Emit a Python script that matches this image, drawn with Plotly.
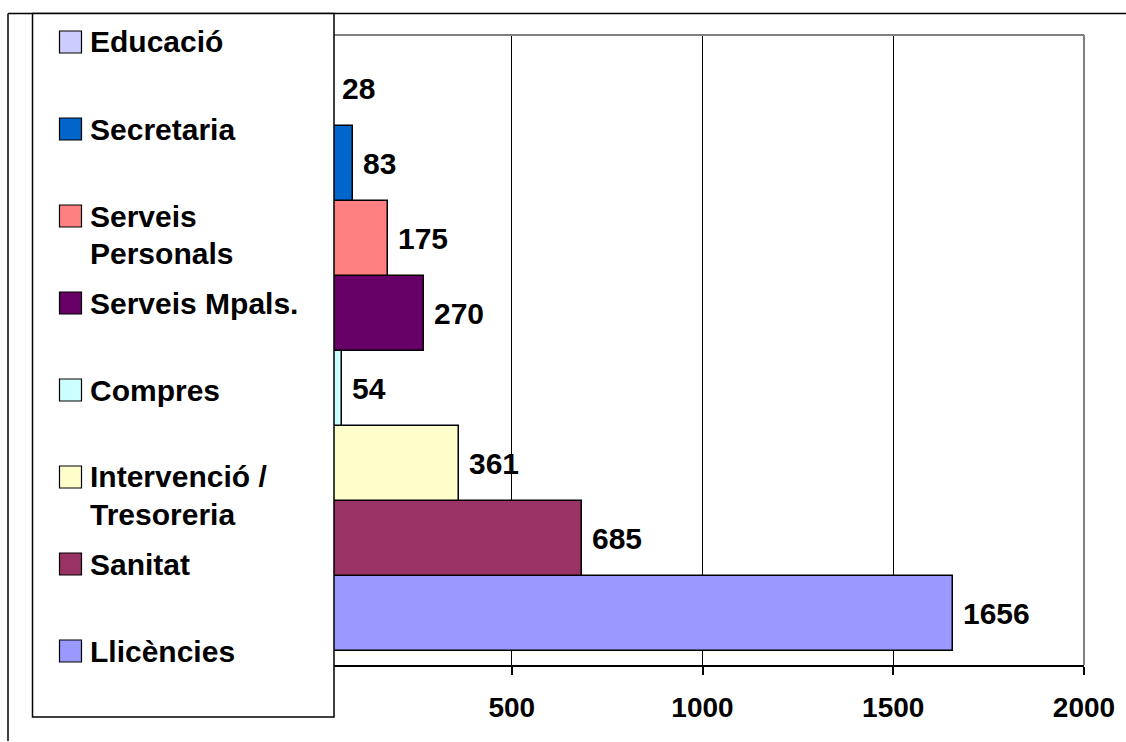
import plotly.graph_objects as go

# ---- data (bottom to top) ----
categories = ["Llicències", "Sanitat", "Intervenció / Tresoreria", "Compres",
              "Serveis Mpals.", "Serveis Personals", "Secretaria", "Educació"]
values = [1656, 685, 361, 54, 270, 175, 83, 28]
legend_labels = ["Llicències", "Sanitat", "Intervenció /<br>Tresoreria", "Compres",
                 "Serveis Mpals.", "Serveis<br>Personals", "Secretaria", "Educació"]
colors = ["#9999FF", "#993366", "#FFFFCC", "#CCFFFF",
          "#660066", "#FF8080", "#0066CC", "#CCCCFF"]
tick_values = [500, 1000, 1500, 2000]
tick_labels = ["500", "1000", "1500", "2000"]

# ---- layout geometry (pixels) ----
W_FIG, H_FIG = 1126, 742
L, R, T, B = 321, 42, 35, 77
PW = W_FIG - L - R
PH = H_FIG - T - B
FONT = "Arial, Liberation Sans, sans-serif"


def px(x):
    return (x - L) / PW


def py(y):
    return (H_FIG - B - y) / PH


fig = go.Figure()
fig.add_trace(go.Bar(
    x=values, y=categories, orientation="h",
    marker=dict(color=colors, line=dict(color="black", width=1.5)),
    hoverinfo="skip",
))

shapes = []
# outer frame (top and left)
shapes.append(dict(type="line", xref="paper", yref="paper",
                   x0=px(8), x1=px(1126), y0=py(13.5), y1=py(13.5),
                   line=dict(color="black", width=1.5), layer="above"))
shapes.append(dict(type="line", xref="paper", yref="paper",
                   x0=px(8), x1=px(8), y0=py(13.5), y1=py(741),
                   line=dict(color="black", width=1.5), layer="above"))
# plot area border (top and right, grey)
shapes.append(dict(type="line", xref="paper", yref="paper",
                   x0=0, x1=1, y0=1, y1=1,
                   line=dict(color="#808080", width=2), layer="above"))
shapes.append(dict(type="line", xref="paper", yref="paper",
                   x0=1, x1=1, y0=0, y1=1,
                   line=dict(color="#808080", width=2), layer="above"))
# legend box
shapes.append(dict(type="rect", xref="paper", yref="paper",
                   x0=px(32.5), x1=px(334), y0=py(717), y1=py(13.5),
                   fillcolor="white", line=dict(color="black", width=1.5),
                   layer="above"))

annotations = []
ROW0, ROW_STEP, LINE_STEP = 42, 87, 37
n = len(categories)
for k in range(n):
    i = n - 1 - k  # top row is last category
    yc = ROW0 + k * ROW_STEP
    shapes.append(dict(type="rect", xref="paper", yref="paper",
                       x0=px(59.5), x1=px(81.5), y0=py(yc + 11), y1=py(yc - 11),
                       fillcolor=colors[i], line=dict(color="black", width=1.2),
                       layer="above"))
    for j, line in enumerate(legend_labels[i].split("<br>")):
        annotations.append(dict(
            xref="paper", yref="paper", x=px(88), y=py(yc + j * LINE_STEP),
            xanchor="left", yanchor="middle", text=line, showarrow=False,
            font=dict(family=FONT, size=30, color="black", weight="bold")))

# value labels
for c, v in zip(categories, values):
    annotations.append(dict(
        x=v, y=c, xref="x", yref="y", xanchor="left", yanchor="middle",
        xshift=8, text=str(v), showarrow=False,
        font=dict(family=FONT, size=30, color="black", weight="bold")))

fig.update_layout(
    width=W_FIG, height=H_FIG,
    margin=dict(l=L, r=R, t=T, b=B, pad=0),
    paper_bgcolor="white", plot_bgcolor="white",
    bargap=0, showlegend=False, hovermode=False,
    shapes=shapes, annotations=annotations,
    xaxis=dict(range=[0, 2000], tickvals=tick_values, ticktext=tick_labels,
               showgrid=True, gridcolor="black", gridwidth=1,
               zeroline=False, showline=True, linecolor="black", linewidth=1.5,
               ticks="outside", ticklen=8, tickwidth=1.5, tickcolor="black",
               ticklabelstandoff=9,
               tickfont=dict(family=FONT, size=28, color="black", weight="bold")),
    yaxis=dict(type="category", categoryorder="array", categoryarray=categories,
               range=[-0.685, n - 0.285], showticklabels=False, showgrid=False,
               zeroline=False, showline=False, ticks=""),
)

fig.write_html("out.html")
